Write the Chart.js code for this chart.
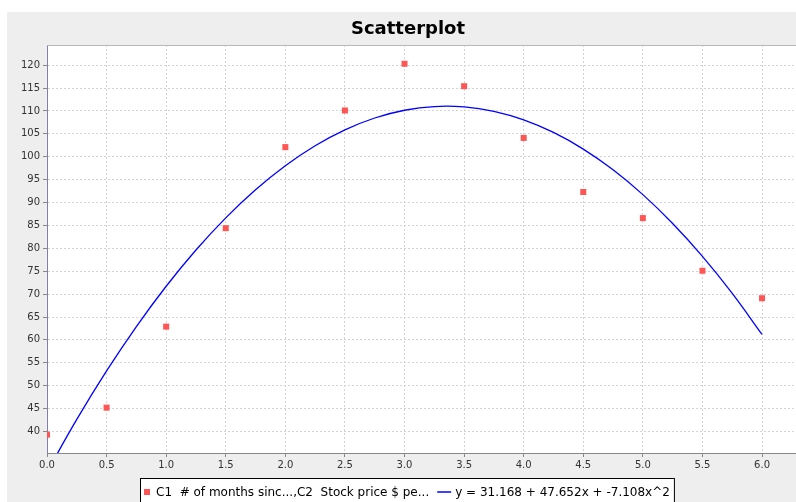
<!DOCTYPE html>
<html>
<head>
<meta charset="utf-8">
<script src="https://cdn.jsdelivr.net/npm/chart.js@4/dist/chart.umd.min.js"></script>
<style>
  html, body { margin: 0; padding: 0; background: #fff; overflow: hidden; }
  #chart { display: block; width: 796px; height: 502px; }
</style>
</head>
<body>
<canvas id="chart" width="796" height="502"></canvas>
<script>
// C1: months since start, C2: stock price
const months = [0, 0.5, 1.0, 1.5, 2.0, 2.5, 3.0, 3.5, 4.0, 4.5, 5.0, 5.5, 6.0];
const prices = [39.3, 45.2, 62.9, 84.4, 102.1, 110.1, 120.3, 115.4, 104.1, 92.3, 86.6, 75.1, 69.1];

// quadratic fit y = 31.168 + 47.652x - 7.108x^2, every quarter month
const fitX = [0, 0.25, 0.5, 0.75, 1.0, 1.25, 1.5, 1.75, 2.0, 2.25, 2.5, 2.75, 3.0,
              3.25, 3.5, 3.75, 4.0, 4.25, 4.5, 4.75, 5.0, 5.25, 5.5, 5.75, 6.0];
const fitY = [31.168, 42.637, 53.217, 62.909, 71.712, 79.627, 86.653, 92.791, 98.040,
              102.401, 105.873, 108.457, 110.152, 110.959, 110.877, 109.907, 108.048,
              105.301, 101.665, 97.141, 91.728, 85.427, 78.237, 70.159, 61.192];

const xTicks = [0, 0.5, 1.0, 1.5, 2.0, 2.5, 3.0, 3.5, 4.0, 4.5, 5.0, 5.5, 6.0];
const yTicks = [40, 45, 50, 55, 60, 65, 70, 75, 80, 85, 90, 95, 100, 105, 110, 115, 120];

const chartTitle = 'Scatterplot';
const pointsLabel = 'C1  # of months sinc...,C2  Stock price $ pe...';
const fitLabel = 'y = 31.168 + 47.652x + -7.108x^2';

const FONT = '"DejaVu Sans", "Lucida Sans", sans-serif';

// grey panel behind everything, white plot area
const panel = {
  id: 'panel',
  beforeDraw(chart) {
    const { ctx, width, height, chartArea: a } = chart;
    ctx.save();
    ctx.fillStyle = '#ffffff';
    ctx.fillRect(0, 0, width, height);
    ctx.fillStyle = '#eeeeee';
    ctx.fillRect(7, 12, width - 7, height - 12);
    ctx.fillStyle = '#ffffff';
    ctx.fillRect(a.left, a.top, a.right - a.left, a.bottom - a.top);
    ctx.restore();
  },
  afterDraw(chart) {
    const { ctx, chartArea: a } = chart;
    ctx.save();
    // plot outline along the top
    ctx.strokeStyle = '#b8b8b8';
    ctx.lineWidth = 1;
    ctx.beginPath();
    ctx.moveTo(a.left, a.top + 0.5);
    ctx.lineTo(a.right, a.top + 0.5);
    ctx.stroke();

    // title
    ctx.fillStyle = '#000';
    ctx.font = 'bold 18px ' + FONT;
    ctx.textAlign = 'center';
    ctx.textBaseline = 'alphabetic';
    ctx.fillText(chartTitle, 408, 34);
    ctx.restore();
  }
};

// boxed legend under the x axis
const legendBox = {
  id: 'legendBox',
  afterDraw(chart) {
    const ctx = chart.ctx;
    const [pts, fit] = chart.data.datasets;
    ctx.save();
    ctx.font = '12px ' + FONT;
    const w1 = ctx.measureText(pts.label).width;
    const w2 = ctx.measureText(fit.label).width;
    const boxW = 4 + 6 + 6 + w1 + 8 + 14 + 4 + w2 + 4;
    const left = Math.round(407 - boxW / 2) + 0.5;
    const top = 478.5;

    ctx.fillStyle = '#ffffff';
    ctx.fillRect(left, top, boxW, 40);
    ctx.strokeStyle = '#000000';
    ctx.lineWidth = 1;
    ctx.strokeRect(left, top, boxW, 40);

    let x = left + 3.5;
    ctx.fillStyle = pts.backgroundColor;
    ctx.fillRect(x, 489, 6, 6);
    x += 12;
    ctx.fillStyle = '#000';
    ctx.textBaseline = 'alphabetic';
    ctx.fillText(pts.label, x, 496);
    x += w1 + 8;
    ctx.strokeStyle = fit.borderColor;
    ctx.lineWidth = 1.5;
    ctx.beginPath();
    ctx.moveTo(x, 492);
    ctx.lineTo(x + 14, 492);
    ctx.stroke();
    x += 18;
    ctx.fillText(fit.label, x, 496);
    ctx.restore();
  }
};

const tickFont = { family: FONT, size: 10 };

new Chart(document.getElementById('chart'), {
  type: 'scatter',
  data: {
    datasets: [{
      label: pointsLabel,
      data: months.map((m, i) => ({ x: m, y: prices[i] })),
      backgroundColor: '#ff5555',
      borderWidth: 0,
      pointStyle: 'rect',
      pointRadius: 4.25,
      pointHoverRadius: 4.25,
      clip: 0,
      order: 1
    }, {
      type: 'line',
      label: fitLabel,
      data: fitX.map((v, i) => ({ x: v, y: fitY[i] })),
      borderColor: '#0000ff',
      borderWidth: 1.3,
      pointRadius: 0,
      fill: false,
      tension: 0.4,
      clip: 0,
      order: 0
    }]
  },
  options: {
    responsive: false,
    devicePixelRatio: 1,
    animation: false,
    layout: {
      autoPadding: false,
      padding: { left: 0, right: 0, top: 45, bottom: 24 }
    },
    plugins: {
      legend: { display: false },
      title: { display: false },
      tooltip: { enabled: false }
    },
    scales: {
      x: {
        type: 'linear',
        min: 0,
        max: 6.285,
        afterBuildTicks: s => { s.ticks = xTicks.map(v => ({ value: v })); },
        afterFit: s => { s.height = 25; },
        ticks: {
          callback: v => Number(v).toFixed(1),
          font: tickFont,
          color: '#333333',
          padding: 2,
          maxRotation: 0,
          autoSkip: false
        },
        grid: { color: '#d4d4d4', tickColor: '#888888', tickLength: 4, tickBorderDash: [] },
        border: { color: '#888888', dash: [2, 2] }
      },
      y: {
        min: 35.3,
        max: 124.4,
        afterBuildTicks: s => { s.ticks = yTicks.map(v => ({ value: v })); },
        afterFit: s => { s.width = 47; },
        ticks: {
          font: tickFont,
          color: '#333333',
          padding: 3,
          autoSkip: false
        },
        grid: { color: '#d4d4d4', tickColor: '#888888', tickLength: 4, tickBorderDash: [] },
        border: { color: '#8080a8', dash: [2, 2] }
      }
    }
  },
  plugins: [panel, legendBox]
});
</script>
</body>
</html>
